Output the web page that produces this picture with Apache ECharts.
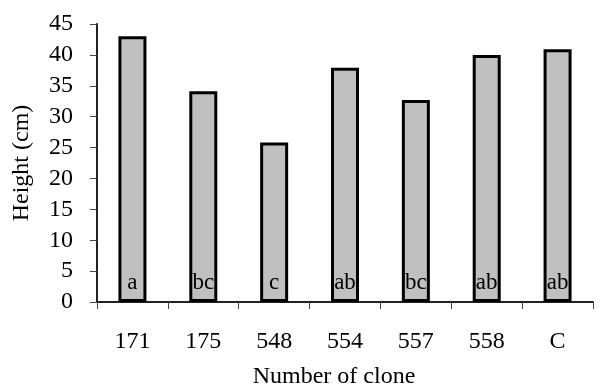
<!DOCTYPE html>
<html>
<head>
<meta charset="utf-8">
<script src="https://cdn.jsdelivr.net/npm/echarts@6/dist/echarts.min.js"></script>
<style>
  html, body { margin: 0; padding: 0; background: #fff; }
  #chart { width: 600px; height: 387px; }
</style>
</head>
<body>
<div id="chart"></div>
<script>
// Clone numbers along the x axis
const clones = ['171', '175', '548', '554', '557', '558', 'C'];
// Mean plant height per clone (cm)
const heights = [43.0, 34.1, 25.8, 37.9, 32.7, 40.0, 40.9];
// Significance group letters shown inside each bar
const groups = ['a', 'bc', 'c', 'ab', 'bc', 'ab', 'ab'];
// Height axis tick range
const yTicks = { min: 0, max: 45, step: 5 };

const font = '"Liberation Serif", "Times New Roman", serif';
const chart = echarts.init(document.getElementById('chart'), null, { renderer: 'canvas' });

chart.setOption({
  animation: false,
  backgroundColor: '#ffffff',
  grid: { left: 97, right: 7, top: 24, bottom: 85, containLabel: false, outerBoundsMode: 'none' },
  xAxis: {
    type: 'category',
    data: clones,
    name: 'Number of clone',
    nameLocation: 'middle',
    nameGap: 63,
    nameTextStyle: { fontFamily: font, fontSize: 24, color: '#000', padding: [0, 22, 0, 0] },
    axisLine: { show: true, lineStyle: { color: '#222', width: 2 } },
    axisTick: { show: true, alignWithLabel: false, length: 7, inside: false, lineStyle: { color: '#444', width: 1 } },
    axisLabel: { fontFamily: font, fontSize: 24, color: '#000', margin: 28 },
    splitLine: { show: false }
  },
  yAxis: {
    type: 'value',
    min: yTicks.min,
    max: yTicks.max,
    interval: yTicks.step,
    name: 'Height (cm)',
    nameLocation: 'middle',
    nameGap: 63,
    nameRotate: 90,
    nameTextStyle: { fontFamily: font, fontSize: 24, color: '#000' },
    axisLine: { show: true, lineStyle: { color: '#222', width: 2 } },
    axisTick: { show: true, length: 7, lineStyle: { color: '#444', width: 1 } },
    axisLabel: { fontFamily: font, fontSize: 24, color: '#000', margin: 24 },
    splitLine: { show: false }
  },
  series: [{
    type: 'bar',
    data: heights.map((v, i) => ({ value: v, groupLabel: groups[i] })),
    barWidth: 28,
    itemStyle: { color: '#c0c0c0', borderColor: '#000', borderWidth: 3 },
    label: {
      show: true,
      position: 'insideBottom',
      distance: 8,
      fontFamily: font,
      fontSize: 23,
      color: '#000',
      formatter: p => groups[p.dataIndex]
    }
  }]
});
</script>
</body>
</html>
